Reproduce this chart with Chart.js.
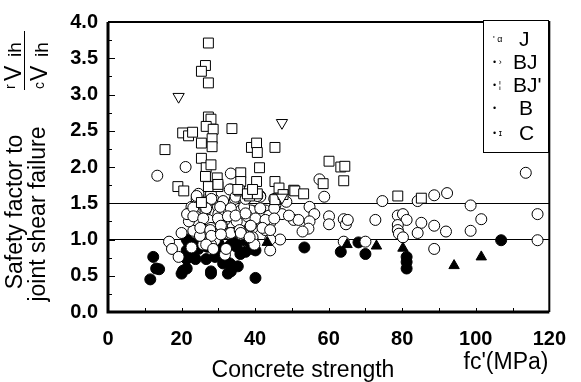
<!DOCTYPE html>
<html>
<head>
<meta charset="utf-8">
<script src="https://cdn.jsdelivr.net/npm/chart.js@4/dist/chart.umd.min.js"></script>
<style>
  html, body { margin: 0; padding: 0; background: #fff; }
  #wrap { width: 581px; height: 382px; position: relative; }
</style>
</head>
<body>
<div id="wrap"><canvas id="safetyChart"></canvas></div>
<script>
// ---- data: [fc' (MPa), safety factor] ----
const seriesJ = [
  [13.4,1.88],[21.1,2.00],[20.0,1.09],[16.6,0.97],[17.4,0.87],[19.2,0.76],[24.6,1.60],[23.2,1.45],
  [23.8,1.32],[24.6,1.23],[23.2,1.12],[26.5,1.40],[27.3,1.27],[25.9,1.13],[28.0,1.16],[28.6,0.96],
  [29.9,1.45],[31.8,1.45],[30.7,1.27],[33.4,1.23],[32.0,1.09],[34.5,1.33],[36.1,1.07],[38.5,1.16],
  [39.8,1.39],[39.3,1.00],[28.6,1.56],[33.4,1.91],[57.5,1.83],[58.8,1.59],[54.8,1.45],[56.1,1.35],
  [54.8,1.25],[54.5,1.15],[52.9,1.11],[50.5,1.27],[51.8,1.27],[60.1,1.32],[60.1,1.21],[64.1,1.28],
  [64.7,1.21],[65.2,1.27],[72.7,1.27],[74.6,1.53],[78.8,1.33],[80.2,1.35],[81.2,1.27],[78.8,1.20],
  [78.8,1.13],[79.1,1.08],[80.2,1.03],[64.1,0.97],[70.0,0.97],[46.8,1.00],[44.1,1.00],[44.1,0.85],
  [42.8,1.40],[41.4,1.39],[39.3,1.27],[42.5,1.25],[44.1,1.23],[42.8,1.13],[39.3,1.16],[47.3,1.35],
  [49.2,1.33],[43.8,1.33],[38.8,1.40],[113.6,1.92],[88.7,1.61],[92.2,1.64],[84.2,1.53],[98.6,1.47],
  [116.8,1.35],[101.5,1.28],[85.2,1.23],[88.7,1.19],[91.9,1.11],[84.2,1.09],[98.6,1.12],[116.8,0.99],
  [88.7,0.87],[24.1,1.56],[22.7,1.45],[32.6,1.40],[31.8,1.27],[33.4,1.09],[36.1,1.40],[37.9,1.32],
  [38.8,1.19],[27.3,0.96],[29.1,0.99],[36.1,1.12],[39.3,1.03],[39.8,0.93],[25.9,0.93],[28.0,0.93],
  [31.8,0.79],[22.7,0.89],[24.6,1.63],[28.0,1.63],[33.4,1.69],[36.6,1.63],[41.4,1.60],[31.3,1.53],
  [34.5,1.56],[37.1,1.53],[41.4,1.59],[22.0,1.25],[21.5,1.35],[25.0,1.05],[26.0,1.47],[27.0,1.52],
  [30.0,1.35],[31.0,1.19],[35.0,1.25],[37.0,1.45],[45.5,1.47],[48.5,1.52],
  [24.1,1.60],[28.1,1.56],[33.1,1.69],[34.7,1.59],[37.4,1.56],[40.6,1.60],[45.2,1.56],
  [23.2,1.44],[26.7,1.43],[30.5,1.45],[33.4,1.43],[41.4,1.43],[45.2,1.43],
  [23.2,1.32],[25.9,1.29],[29.9,1.29],[32.6,1.32],[34.7,1.33],[37.4,1.36],[40.1,1.29],[42.8,1.27],
  [45.2,1.29],[25.1,1.16],[27.8,1.13],[30.7,1.19],[35.8,1.13],[38.8,1.19],[42.0,1.16],[44.1,1.13],
  [28.1,1.05],[30.7,1.07],[36.1,1.09],[38.5,1.03],[26.7,0.93],[32.1,0.87],[28.6,0.87]
];
const seriesBJ = [
  [27.3,3.71],[26.5,3.40],[25.4,3.32],[27.3,3.16],[27.3,2.69],[28.0,2.66],[26.7,2.56],[28.6,2.52],
  [28.3,2.39],[28.3,2.28],[20.3,2.47],[21.9,2.43],[23.0,2.48],[25.4,2.33],[15.5,2.24],[33.7,2.53],
  [39.0,2.27],[40.4,2.33],[40.6,2.20],[45.4,2.27],[25.4,2.12],[26.7,1.99],[28.0,2.03],[41.2,1.99],
  [36.1,1.92],[26.5,1.87],[29.7,1.85],[19.0,1.73],[20.6,1.67],[27.3,1.73],[29.9,1.73],[36.1,1.80],
  [40.4,1.80],[45.4,1.80],[46.5,1.71],[50.5,1.68],[38.5,1.60],[40.6,1.63],[35.8,1.67],[60.1,2.08],
  [63.3,2.00],[64.4,2.01],[64.1,1.81],[58.5,1.77],[50.8,1.67],[53.2,1.63],[78.8,1.60],[85.2,1.57],
  [45.4,1.55],[47.6,1.62],[35.3,1.69],[37.9,1.63],[39.3,1.69],[29.9,1.76],[25.4,1.51]
];
const seriesBJp = [[19.2,2.97],[47.3,2.61],[47.3,1.58]];
const seriesB = [
  [11.5,0.45],[12.3,0.76],[13.1,0.60],[13.9,0.59],[20.0,0.53],[20.4,0.57],[21.4,0.60],[21.4,1.00],
  [21.4,0.73],[22.4,0.83],[28.0,0.53],[32.6,0.53],[40.1,0.47],[33.4,0.65],[31.3,0.67],[81.2,0.60],
  [81.2,0.69],[21.9,0.96],[21.4,0.85],[22.7,0.79],[24.6,0.87],[23.8,0.73],[26.7,0.73],[29.1,0.76],
  [28.0,0.56],[31.8,0.72],[33.1,0.67],[33.4,0.56],[33.4,0.93],[34.7,0.96],[37.1,0.99],[38.8,0.96],
  [37.4,0.83],[40.1,0.85],[25.4,0.93],[29.9,0.83],[35.3,0.63],[53.4,0.89],[39.3,0.87],[63.3,0.83],
  [68.1,0.96],[70.0,0.80],[81.2,0.76],[106.9,0.99],[23.0,0.95],[27.0,0.90],[30.0,0.95],[32.0,0.88],
  [35.0,0.90],[36.0,0.80]
];
const seriesC = [[43.3,0.96],[73.0,0.91],[80.2,0.88],[101.5,0.76],[94.1,0.64],[65.0,0.93]];

const refLines = [1.0, 1.5];
const xTicks = [0, 20, 40, 60, 80, 100, 120];
const yTicks = [0, 0.5, 1, 1.5, 2, 2.5, 3, 3.5, 4];
const legendRows = [
  { mark: "' \u03b1", name: "J" },
  { mark: "\u2022 \u203a", name: "BJ" },
  { mark: "\u2022 \u00a6", name: "BJ'" },
  { mark: "\u2022  ", name: "B" },
  { mark: "\u2022 \u026a", name: "C" }
];

const toPts = arr => arr.map(p => ({ x: p[0], y: p[1] }));
const FONT = "'Liberation Sans', Arial, sans-serif";

// frame, inward ticks, axis titles and the boxed legend
const decor = {
  id: 'decor',
  afterDraw(chart) {
    const { ctx, chartArea: a, scales: { x, y } } = chart;
    ctx.save();
    ctx.strokeStyle = '#000';
    ctx.fillStyle = '#000';

    ctx.lineWidth = 1;
    ctx.beginPath();
    for (let v = 10; v < 120; v += 10) {
      const px = Math.round(x.getPixelForValue(v)) + 0.5;
      ctx.moveTo(px, a.bottom); ctx.lineTo(px, a.bottom - 4);
    }
    for (let v = 0.25; v < 4; v += 0.25) {
      const py = Math.round(y.getPixelForValue(v)) + 0.5;
      const len = (Math.round(v * 4) % 2) ? 4 : 7;
      ctx.moveTo(a.left, py); ctx.lineTo(a.left + len, py);
    }
    ctx.stroke();

    // frame: heavy left/bottom, lighter top/right
    ctx.lineWidth = 3;
    ctx.beginPath();
    ctx.moveTo(a.left, a.top); ctx.lineTo(a.left, a.bottom); ctx.lineTo(a.right, a.bottom);
    ctx.stroke();
    ctx.lineWidth = 2;
    ctx.beginPath();
    ctx.moveTo(a.left, a.top); ctx.lineTo(a.right, a.top); ctx.lineTo(a.right, a.bottom);
    ctx.stroke();

    // x axis titles
    ctx.font = `23px ${FONT}`;
    ctx.textBaseline = 'alphabetic';
    ctx.textAlign = 'center';
    ctx.fillText('Concrete strength', 303, 377);
    ctx.fillText("fc'(MPa)", 506, 369);

    // y axis title, rotated
    ctx.save();
    ctx.rotate(-Math.PI / 2);
    ctx.textBaseline = 'middle';
    ctx.font = `23px ${FONT}`;
    ctx.fillText('Safety factor to', -212, 16);
    ctx.fillText('joint shear failure', -214, 39);

    // the ratio rVjh / cVjh
    ctx.lineWidth = 1;
    ctx.beginPath();
    ctx.moveTo(-31, 24.5); ctx.lineTo(-90, 24.5);
    ctx.stroke();
    ctx.textAlign = 'left';
    ctx.font = `14px ${FONT}`;
    ctx.fillText('r', -89, 11);
    ctx.fillText('c', -89, 40);
    ctx.font = `23px ${FONT}`;
    ctx.fillText('V', -81, 15);
    ctx.fillText('V', -81, 41);
    ctx.font = `19px ${FONT}`;
    ctx.fillText('ih', -57, 16);
    ctx.fillText('ih', -57, 43);
    ctx.restore();

    // legend box
    const lx = 483, ly = 20, lw = 65, lh = 132;
    ctx.fillStyle = '#fff';
    ctx.fillRect(lx, ly, lw, lh);
    ctx.lineWidth = 1;
    ctx.strokeRect(lx + 0.5, ly + 0.5, lw, lh);
    ctx.fillStyle = '#000';
    ctx.textBaseline = 'middle';
    ctx.textAlign = 'left';
    const rowY = [40, 63, 86, 109, 134];
    legendRows.forEach((r, i) => {
      ctx.font = `9px ${FONT}`;
      ctx.fillText(r.mark, 493, rowY[i]);
      ctx.font = `21px ${FONT}`;
      ctx.fillText(r.name, r.name.length > 1 ? 513 : 519, rowY[i]);
    });
    ctx.restore();
  }
};

const openStyle = { backgroundColor: '#fff', borderColor: '#000', borderWidth: 1 };
const solidStyle = { backgroundColor: '#000', borderColor: '#000', borderWidth: 1 };

new Chart(document.getElementById('safetyChart'), {
  type: 'scatter',
  data: {
    datasets: [
      { label: "BJ'", data: toPts(seriesBJp), pointStyle: 'triangle', rotation: 180, pointRadius: 6.5, order: 1, ...openStyle },
      { label: 'BJ', data: toPts(seriesBJ), pointStyle: 'rect', pointRadius: 7, order: 2, ...openStyle },
      { label: 'C', data: toPts(seriesC), pointStyle: 'triangle', pointRadius: 6, order: 3, ...solidStyle },
      { label: 'J', data: toPts(seriesJ), pointStyle: 'circle', pointRadius: 5.5, order: 4, ...openStyle },
      { label: 'B', data: toPts(seriesB), pointStyle: 'circle', pointRadius: 5.5, order: 5, ...solidStyle }
    ]
  },
  options: {
    responsive: true,
    maintainAspectRatio: false,
    animation: false,
    events: [],
    layout: { padding: { top: 12, right: 24, left: 0, bottom: 0 } },
    plugins: { legend: { display: false }, tooltip: { enabled: false } },
    scales: {
      x: {
        type: 'linear', min: 0, max: 120,
        afterFit: s => { s.height = 70; },
        afterBuildTicks: s => { s.ticks = xTicks.map(v => ({ value: v })); },
        ticks: { color: '#000', padding: 15, font: { family: FONT, size: 20, weight: 'bold' } },
        grid: { display: false, drawTicks: false },
        border: { display: false }
      },
      y: {
        type: 'linear', min: 0, max: 4,
        afterFit: s => { s.width = 108; },
        afterBuildTicks: s => { s.ticks = yTicks.map(v => ({ value: v })); },
        ticks: {
          color: '#000', padding: 10,
          font: { family: FONT, size: 20, weight: 'bold' },
          callback: v => v.toFixed(1)
        },
        grid: {
          drawTicks: false,
          lineWidth: 1,
          color: c => refLines.includes(c.tick.value) ? '#000' : 'rgba(0,0,0,0)'
        },
        border: { display: false }
      }
    }
  },
  plugins: [decor]
});
</script>
</body>
</html>
